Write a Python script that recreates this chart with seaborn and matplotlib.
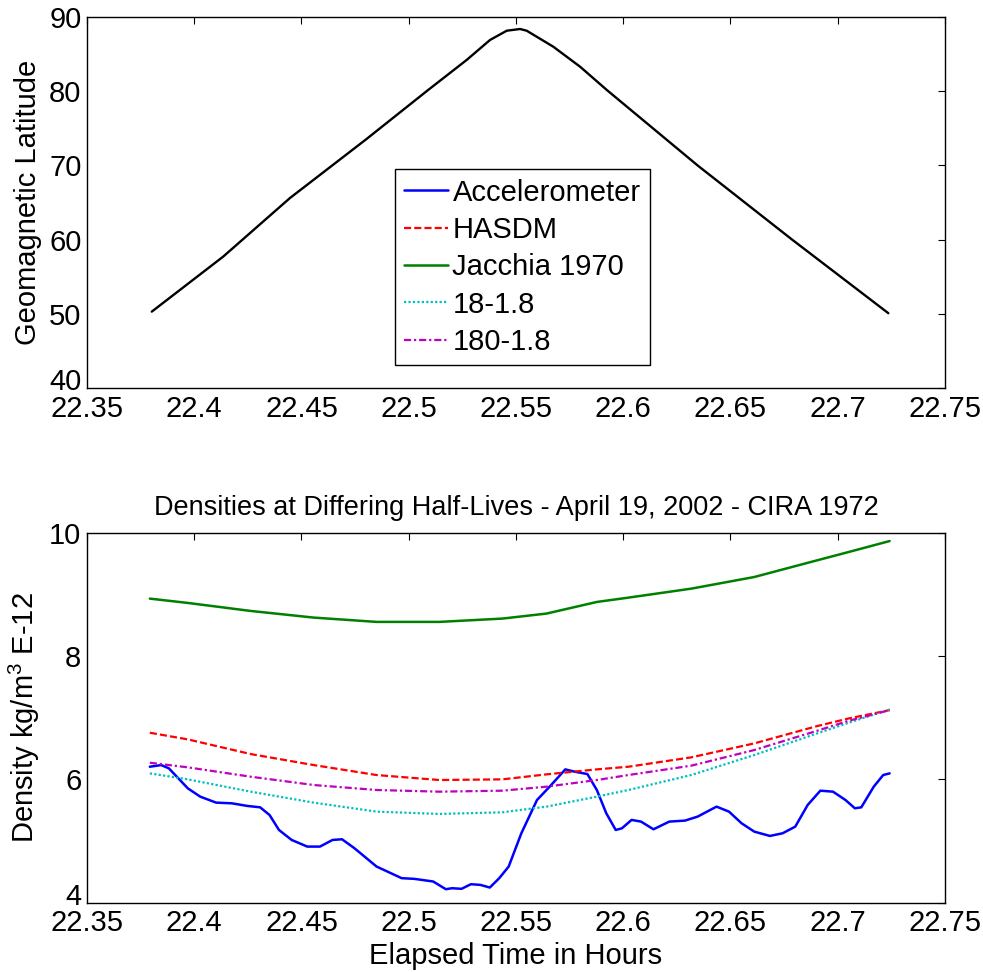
import matplotlib
matplotlib.use("Agg")
import matplotlib.pyplot as plt
import matplotlib.transforms as mtransforms
import seaborn as sns
import pandas as pd

# ---------------- data ----------------
lat_time = [22.3802, 22.4135, 22.4446, 22.4800, 22.5091, 22.5270, 22.5379, 22.5457,
            22.5519, 22.5550, 22.5674, 22.5799, 22.5923, 22.6347, 22.6787, 22.7236]
lat_vals = [50.27, 57.70, 65.60, 73.50, 80.20, 84.24, 86.94, 88.19,
            88.42, 88.19, 86.03, 83.33, 80.20, 70.00, 60.00, 50.06]

acc_time = [22.3793, 22.3846, 22.3882, 22.3926, 22.3970, 22.4028, 22.4102, 22.4175,
            22.4248, 22.4307, 22.4351, 22.4395, 22.4454, 22.4527, 22.4586, 22.4645,
            22.4689, 22.4747, 22.4850, 22.4967, 22.5026, 22.5114, 22.5173, 22.5202,
            22.5246, 22.5290, 22.5334, 22.5378, 22.5422, 22.5466, 22.5525, 22.5598,
            22.5657, 22.5730, 22.5774, 22.5833, 22.5877, 22.5921, 22.5965, 22.5994,
            22.6039, 22.6083, 22.6141, 22.6215, 22.6288, 22.6347, 22.6435, 22.6493,
            22.6552, 22.6611, 22.6684, 22.6743, 22.6802, 22.6860, 22.6919, 22.6978,
            22.7036, 22.7080, 22.7110, 22.7168, 22.7212, 22.7242]
acc_vals = [6.205, 6.232, 6.178, 6.016, 5.854, 5.719, 5.622, 5.611,
            5.568, 5.546, 5.422, 5.178, 5.016, 4.908, 4.908, 5.016,
            5.027, 4.881, 4.584, 4.395, 4.384, 4.341, 4.216, 4.232,
            4.222, 4.297, 4.286, 4.243, 4.395, 4.584, 5.124, 5.665,
            5.881, 6.162, 6.124, 6.086, 5.827, 5.449, 5.178, 5.205,
            5.341, 5.314, 5.189, 5.314, 5.330, 5.395, 5.557, 5.476,
            5.286, 5.151, 5.081, 5.124, 5.232, 5.584, 5.816, 5.800,
            5.665, 5.530, 5.546, 5.881, 6.070, 6.097]

model_time = [22.3793, 22.3970, 22.4263, 22.4557, 22.4850, 22.5143, 22.5437, 22.5642,
              22.5877, 22.6024, 22.6317, 22.6611, 22.6904, 22.7051, 22.7242]
hasdm   = [6.757, 6.649, 6.411, 6.232, 6.070, 5.989, 6.000, 6.081,
           6.162, 6.205, 6.357, 6.584, 6.865, 6.989, 7.124]
jacchia = [8.935, 8.865, 8.735, 8.627, 8.557, 8.557, 8.611, 8.692,
           8.881, 8.951, 9.097, 9.286, 9.557, 9.692, 9.870]
hl_18   = [6.097, 6.000, 5.800, 5.622, 5.476, 5.438, 5.465, 5.557,
           5.719, 5.827, 6.070, 6.395, 6.746, 6.919, 7.135]
hl_180  = [6.270, 6.195, 6.043, 5.908, 5.827, 5.800, 5.816, 5.881,
           5.989, 6.070, 6.222, 6.476, 6.789, 6.951, 7.124]

series_labels = ["Accelerometer", "HASDM", "Jacchia 1970", "18-1.8", "180-1.8"]
xticks = [22.35, 22.4, 22.45, 22.5, 22.55, 22.6, 22.65, 22.7, 22.75]
xticklabels = ["22.35", "22.4", "22.45", "22.5", "22.55", "22.6", "22.65", "22.7", "22.75"]

# ---------------- style ----------------
sns.set_theme(style="white")
plt.rcParams['font.family'] = ['Liberation Sans', 'DejaVu Sans']
plt.rcParams['mathtext.default'] = 'regular'
plt.rcParams.update({
    'text.color': 'black', 'axes.labelcolor': 'black',
    'xtick.direction': 'in', 'ytick.direction': 'in',
    'xtick.top': True, 'ytick.right': True,
    'xtick.major.size': 5, 'ytick.major.size': 5,
    'xtick.major.width': 0.8, 'ytick.major.width': 0.8,
    'xtick.major.pad': 5, 'ytick.major.pad': 4,
    'axes.edgecolor': 'black', 'axes.linewidth': 1.0,
    'xtick.color': 'black', 'ytick.color': 'black',
    'axes.grid': False,
})

FS = 21
fig = plt.figure(figsize=(9.83, 9.72), dpi=100)
ax1 = fig.add_axes([0.0885, 0.6011, 0.8728, 0.3811])
ax2 = fig.add_axes([0.0885, 0.0715, 0.8728, 0.3801])

# ---------------- top plot ----------------
sns.lineplot(x=lat_time, y=lat_vals, ax=ax1, color='black', linewidth=1.7, sort=False)
ax1.set_xlim(22.35, 22.75)
ax1.set_ylim(40, 90)
ax1.set_yticks([40, 50, 60, 70, 80, 90])
ax1.set_xticks(xticks)
ax1.set_xticklabels(xticklabels)
ax1.set_ylabel("Geomagnetic Latitude", fontsize=FS, color='black')
ax1.yaxis.set_label_coords(-0.052, 0.5)

# ---------------- bottom plot ----------------
sns.lineplot(x=acc_time, y=acc_vals, ax=ax2, color=(0, 0, 1), linewidth=1.8,
             label=series_labels[0], sort=False)
sns.lineplot(x=model_time, y=hasdm, ax=ax2, color=(1, 0, 0), linewidth=1.6,
             linestyle=(0, (3.2, 1.4)), label=series_labels[1], sort=False)
sns.lineplot(x=model_time, y=jacchia, ax=ax2, color=(0, 0.5, 0), linewidth=1.8,
             label=series_labels[2], sort=False)
sns.lineplot(x=model_time, y=hl_18, ax=ax2, color=(0, 0.75, 0.75), linewidth=1.6,
             linestyle=(0, (1, 1.0)), label=series_labels[3], sort=False)
sns.lineplot(x=model_time, y=hl_180, ax=ax2, color=(0.75, 0, 0.75), linewidth=1.6,
             linestyle=(0, (3.2, 1.3, 1, 1.3)), label=series_labels[4], sort=False)
ax2.set_xlim(22.35, 22.75)
ax2.set_ylim(4, 10)
ax2.set_yticks([4, 6, 8, 10])
ax2.set_xticks(xticks)
ax2.set_xticklabels(xticklabels)
ax2.set_xlabel("Elapsed Time in Hours", fontsize=FS, color='black', labelpad=3)
ax2.set_ylabel("Density kg/m$^{3}$ E-12", fontsize=FS, color='black')
ax2.yaxis.set_label_coords(-0.052, 0.5)
ax2.set_title("Densities at Differing Half-Lives - April 19, 2002 - CIRA 1972",
              fontsize=19.5, pad=13, color='black')

handles, labels = ax2.get_legend_handles_labels()
ax2.get_legend().remove()
leg = ax1.legend(handles, labels, loc='upper left', bbox_to_anchor=(0.359, 0.590),
                 borderaxespad=0, fontsize=FS, frameon=True, fancybox=False,
                 edgecolor='black', framealpha=1, handlelength=1.5,
                 handletextpad=0.15, labelspacing=0.32, borderpad=0.32)
leg.get_frame().set_linewidth(1.0)
for t in leg.get_texts():
    t.set_color('black')

for ax in (ax1, ax2):
    ax.tick_params(labelsize=FS, colors='black')
    for s in ax.spines.values():
        s.set_visible(True)
        s.set_color('black')
    # nudge the lowest y tick label up slightly so it does not collide with the x labels
    lowest = ax.get_yticklabels()[0]
    lowest.set_transform(lowest.get_transform() +
                         mtransforms.ScaledTranslation(0, 6 / 72, fig.dpi_scale_trans))

fig.savefig("out.png", dpi=100)
